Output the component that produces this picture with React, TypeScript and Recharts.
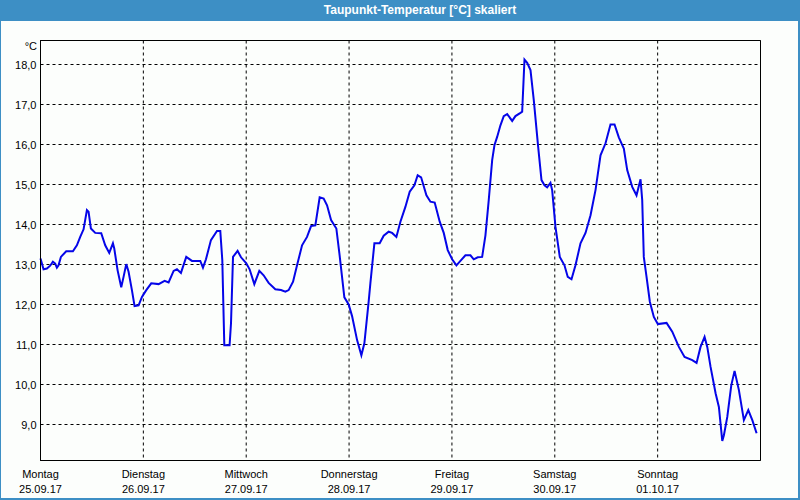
import React from 'react';
import { LineChart, Line, XAxis, YAxis, CartesianGrid, ReferenceArea } from 'recharts';

// hours since Monday 25.09.17 00:00
const hours = [
  0, 0.71, 1.49, 2.26, 2.89, 3.43, 3.82, 4.21, 4.76, 6.0, 7.56, 8.49, 9.27, 10.05, 10.83, 11.21, 11.76, 12.77, 14.17, 15.1,
  16.04, 16.9, 17.21, 17.98, 18.84, 19.38, 20.01, 20.55, 21.33, 21.95, 22.89, 23.67, 24.68, 25.84, 27.56, 28.96, 29.89, 31.06, 31.84, 32.77,
  34.01, 35.34, 37.28, 37.91, 38.61, 39.77, 41.18, 41.95,
  42.42, 42.89, 44.12, 44.45, 44.92, 45.99, 46.79, 48.02, 48.79, 49.89, 51.06, 52.06, 53.23, 54.79, 56.12, 57.13, 57.9, 58.93, 59.86, 61.03,
  62.19, 63.13, 64.13, 65.14, 66.07, 66.86, 67.8, 69.03, 69.74, 70.9, 71.91, 72.7, 73.87, 74.87, 75.57, 76.57, 76.97, 77.91, 79.14,
  80.08, 81.24, 82.04, 83.04, 83.98, 85.14, 86.15, 87.24, 88.01, 88.81, 90.05, 90.98, 91.98, 93.15, 94.09, 95.02, 96.05, 97.05, 97.98, 99.15,
  100.32, 101.09, 102.02, 103.05, 103.82, 104.59, 105.39, 105.92, 106.55, 107.32, 108.09, 108.89, 110.06, 110.82, 111.99, 112.39, 112.93, 113.56, 114.33, 115.1,
  116.12, 116.9, 117.6, 118.22, 118.99, 119.39, 120.16, 121.17,
  122.26, 123.03, 123.9, 124.83, 126.0, 127.17, 128.34, 129.5, 130.67, 131.84, 133.0, 133.94, 134.94, 136.11, 136.9, 138.07, 139.07, 140.01, 140.4, 140.77,
  141.41, 142.18, 143.11, 144.05, 146.08, 147.41, 148.95, 150.28, 152.08, 153.08, 154.01, 154.95, 155.58, 156.35, 157.52, 158.29, 159.08, 159.46, 160.25, 161.18,
  161.95, 162.96, 164.12, 165.15, 166.09, 167.09,
];

const dewPoint = [
  13.15, 12.88, 12.9, 12.97, 13.07, 13.02, 12.92, 12.98, 13.19, 13.33, 13.33, 13.48, 13.69, 13.88, 14.36, 14.32, 13.9, 13.79, 13.78, 13.48,
  13.29, 13.53, 13.4, 12.86, 12.43, 12.69, 13.01, 12.82, 12.36, 11.96, 11.98, 12.19, 12.36, 12.53, 12.51, 12.59, 12.55, 12.84, 12.88, 12.79,
  13.19, 13.09, 13.09, 12.92, 13.13, 13.61, 13.84, 13.84,
  13.11, 10.98, 10.98, 11.53, 13.19, 13.34, 13.18, 13.03, 12.88, 12.51, 12.84, 12.73, 12.54, 12.38, 12.36, 12.32, 12.36, 12.57, 12.98, 13.48,
  13.69, 13.96, 13.98, 14.68, 14.65, 14.48, 14.11, 13.9, 13.28, 12.18, 12.0, 11.71, 11.11, 10.73, 11.03, 12.07, 12.53, 13.53, 13.53,
  13.72, 13.82, 13.79, 13.69, 14.07, 14.44, 14.82, 14.98, 15.23, 15.18, 14.73, 14.57, 14.55, 14.07, 13.79, 13.36, 13.13, 12.98, 13.09, 13.23,
  13.23, 13.13, 13.18, 13.19, 13.73, 14.61, 15.61, 15.98, 16.19, 16.48, 16.71, 16.76, 16.59, 16.71, 16.79, 16.82, 18.12, 18.04, 17.86, 17.11,
  15.94, 15.11, 14.98, 14.93, 15.04, 14.86, 13.94, 13.19,
  12.98, 12.69, 12.63, 12.98, 13.53, 13.79, 14.23, 14.86, 15.73, 16.03, 16.5, 16.5, 16.18, 15.9, 15.36, 14.94, 14.73, 15.13, 14.61, 13.19,
  12.69, 12.07, 11.69, 11.51, 11.54, 11.32, 10.94, 10.69, 10.61, 10.54, 10.94, 11.19, 10.94, 10.44, 9.78, 9.44, 8.59, 8.73, 9.19, 9.98,
  10.34, 9.86, 9.11, 9.36, 9.11, 8.78,
];

const dayNames = ['Montag', 'Dienstag', 'Mittwoch', 'Donnerstag', 'Freitag', 'Samstag', 'Sonntag'];
const dayDates = ['25.09.17', '26.09.17', '27.09.17', '28.09.17', '29.09.17', '30.09.17', '01.10.17'];
const dayTicks = [0, 24, 48, 72, 96, 120, 144];
const tempTicks = [9, 10, 11, 12, 13, 14, 15, 16, 17, 18];

const FONT = '"Liberation Sans", Arial, sans-serif';

const data = hours.map((h, i) => ({ h, v: dewPoint[i] }));

const DayTick = (props: any) => {
  const { x, y, payload } = props;
  const i = dayTicks.indexOf(payload.value);
  return (
    <g>
      <text x={x} y={y + 17.5} textAnchor="middle" fontSize={11} fontFamily={FONT} fill="#000">
        {dayNames[i]}
      </text>
      <text x={x} y={y + 32.5} textAnchor="middle" fontSize={11} fontFamily={FONT} fill="#000">
        {dayDates[i]}
      </text>
    </g>
  );
};

const TempTick = (props: any) => {
  const { x, y, payload } = props;
  return (
    <text x={x} y={y + 4.5} textAnchor="end" fontSize={11} fontFamily={FONT} fill="#000">
      {payload.value.toFixed(1).replace('.', ',')}
    </text>
  );
};

const App = () => {
  return (
    <div style={{ position: 'absolute', left: 0, top: 0, width: 800, height: 500, background: '#3d8fc5' }}>
      <div style={{ position: 'absolute', left: 1, top: 21, width: 797, height: 477, background: '#fcfefc' }} />
      <div
        style={{
          position: 'absolute', left: 40, top: 0, width: 760, height: 21, lineHeight: '20px', textAlign: 'center',
          color: '#fff', fontWeight: 'bold', fontSize: 12, fontFamily: FONT,
        }}
      >
        Taupunkt-Temperatur [°C] skaliert
      </div>
      <div
        style={{
          position: 'absolute', left: 20, top: 40, width: 17, textAlign: 'right',
          fontSize: 11, fontFamily: FONT, color: '#000', lineHeight: '12px',
        }}
      >
        °C
      </div>
      <div style={{ position: 'absolute', left: 0, top: 0 }}>
        <LineChart width={800} height={500} data={data} margin={{ top: 40.5, right: 39.5, bottom: 0, left: 0.5 }}>
          <CartesianGrid stroke="#000" strokeDasharray="3 3" />
          <XAxis
            dataKey="h"
            type="number"
            domain={[0, 168]}
            ticks={dayTicks}
            height={39.5}
            tickSize={0}
            tickMargin={0}
            tickLine={false}
            axisLine={{ stroke: '#000' }}
            tick={<DayTick />}
            interval={0}
          />
          <YAxis
            type="number"
            domain={[8.1, 18.6]}
            ticks={tempTicks}
            width={40}
            tickSize={0}
            tickMargin={4}
            tickLine={false}
            axisLine={{ stroke: '#000' }}
            tick={<TempTick />}
            interval={0}
            allowDataOverflow
          />
          <ReferenceArea x1={0} x2={168} y1={8.1} y2={18.6} fill="none" stroke="#000" strokeOpacity={1} fillOpacity={0} />
          <Line
            type="linear"
            dataKey="v"
            stroke="#0505e8"
            strokeWidth={2}
            dot={false}
            isAnimationActive={false}
          />
        </LineChart>
      </div>
    </div>
  );
};

export default App;
